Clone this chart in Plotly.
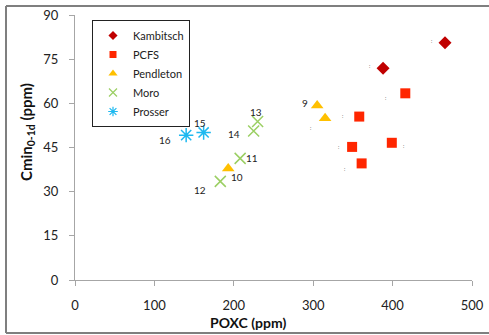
import plotly.graph_objects as go

# Data
kam_x = [466, 388]
kam_y = [80.6, 71.9]
pcfs_x = [416, 358, 349, 399, 361]
pcfs_y = [63.4, 55.5, 45.2, 46.6, 39.6]
pend_x = [305, 315, 193]
pend_y = [59.3, 54.9, 37.9]
moro_x = [230, 225, 208, 183]
moro_y = [53.8, 50.6, 41.3, 33.5]
pros_x = [140, 162]
pros_y = [49.2, 50.1]

x_ticks = [0, 100, 200, 300, 400, 500]
y_ticks = [0, 15, 30, 45, 60, 75, 90]

# point labels: (x, y, text, xshift, yshift)
labels = [
    (pros_x[0], pros_y[0], "16", -21, -5),
    (pros_x[1], pros_y[1], "15", -4, 9),
    (moro_x[1], moro_y[1], "14", -20, -3),
    (moro_x[0], moro_y[0], "13", -2, 10),
    (moro_x[2], moro_y[2], "11", 12, 0),
    (pend_x[2], pend_y[2], "10", 9, -9),
    (moro_x[3], moro_y[3], "12", -20, -9),
    (pend_x[0], pend_y[0], "9", -12, 2),
]
# tiny clipped label remnants next to points
tiny = [
    (kam_x[0], kam_y[0], -14, 2),
    (kam_x[1], kam_y[1], -14, 2),
    (pcfs_x[0], pcfs_y[0], -20, -5),
    (pcfs_x[1], pcfs_y[1], -17, 1),
    (pend_x[1], pend_y[1], -15, -10),
    (pcfs_x[2], pcfs_y[2], -14, 0),
    (pcfs_x[3], pcfs_y[3], 12, -3),
    (pcfs_x[4], pcfs_y[4], -17, -6),
]

FONT = "Lato"
series = [
    ("Kambitsch", kam_x, kam_y, "diamond", "#C00000", 10, 7),
    ("PCFS", pcfs_x, pcfs_y, "square", "#FF2600", 10, 7),
    ("Pendleton", pend_x, pend_y, "triangle-up", "#FFC000", 11, 8),
    ("Moro", moro_x, moro_y, "x-thin-open", "#9BCF63", 11, 8),
    ("Prosser", pros_x, pros_y, "asterisk-open", "#1EB9F0", 12, 8),
]

fig = go.Figure()
for name, xs, ys, sym, col, sz, lsz in series:
    open_sym = sym.endswith("open")
    mk = dict(symbol=sym, size=sz, color=col)
    lmk = dict(symbol=sym, size=lsz, color=col)
    if open_sym:
        mk["line"] = dict(color=col, width=1.5)
        lmk["line"] = dict(color=col, width=1.2)
    fig.add_trace(go.Scatter(x=xs, y=ys, mode="markers", name=name, marker=mk,
                             showlegend=False))
    fig.add_trace(go.Scatter(x=[None], y=[None], mode="markers", name=name, marker=lmk,
                             showlegend=True))

ann = []
for x, y, t, dx, dy in labels:
    ann.append(dict(x=x, y=y, text=t, showarrow=False, xshift=dx, yshift=dy,
                    font=dict(family=FONT, size=10, color="#222222")))
for x, y, dx, dy in tiny:
    ann.append(dict(x=x, y=y, text=":", showarrow=False, xshift=dx, yshift=dy,
                    font=dict(family=FONT, size=5, color="#444444")))

W, L, T, H = 397, 75, 15, 265
def px(x):
    return (x - L) / W
def py(y):
    return (T + H - y) / H

ann.append(dict(xref="paper", yref="paper", x=px(247.6), y=py(322),
                xanchor="center", yanchor="middle",
                text="<b>POXC (ppm)</b>", showarrow=False,
                font=dict(family=FONT, size=14, color="#111111")))
ann.append(dict(xref="paper", yref="paper", x=px(27), y=py(132),
                xanchor="center", yanchor="middle",
                text="<b>Cmin<sub>0-1d</sub> (ppm)</b>", showarrow=False, textangle=-90,
                font=dict(family=FONT, size=15, color="#111111")))

border = dict(color="#7F7F7F", width=2)
fig.update_layout(
    width=489, height=335,
    margin=dict(l=75, r=17, t=15, b=55, autoexpand=False),
    paper_bgcolor="white", plot_bgcolor="white",
    font=dict(family=FONT, size=13, color="#222222"),
    showlegend=True,
    legend=dict(x=px(92), y=py(20), xanchor="left", yanchor="top",
                bordercolor="#222222", borderwidth=1, bgcolor="white",
                font=dict(family=FONT, size=11, color="#222222"),
                itemwidth=30, tracegroupgap=0),
    annotations=ann,
    shapes=[
        dict(type="line", xref="paper", yref="paper", x0=px(6), x1=px(495), y0=py(6), y1=py(6), line=border),
        dict(type="line", xref="paper", yref="paper", x0=px(6), x1=px(6), y0=py(6), y1=py(333), line=border),
        dict(type="line", xref="paper", yref="paper", x0=px(6), x1=px(495), y0=py(333), y1=py(333), line=border),
    ],
)
fig.update_xaxes(range=[0, 500], tickvals=x_ticks, showgrid=False, zeroline=False,
                 showline=True, linecolor="#A6A6A6", linewidth=1, automargin=False,
                 ticks="outside", ticklen=5, tickcolor="#A6A6A6",
                 tickfont=dict(family=FONT, size=13, color="#222222"),
                 ticklabelstandoff=8)
fig.update_yaxes(range=[0, 90], tickvals=y_ticks, showgrid=False, zeroline=False,
                 showline=True, linecolor="#A6A6A6", linewidth=1, automargin=False,
                 ticks="outside", ticklen=5, tickcolor="#A6A6A6",
                 tickfont=dict(family=FONT, size=13, color="#222222"),
                 ticklabelstandoff=8)

fig.write_html("out.html", config={"displayModeBar": False},
               post_script="document.body.style.margin='0';document.body.style.overflow='hidden';")
